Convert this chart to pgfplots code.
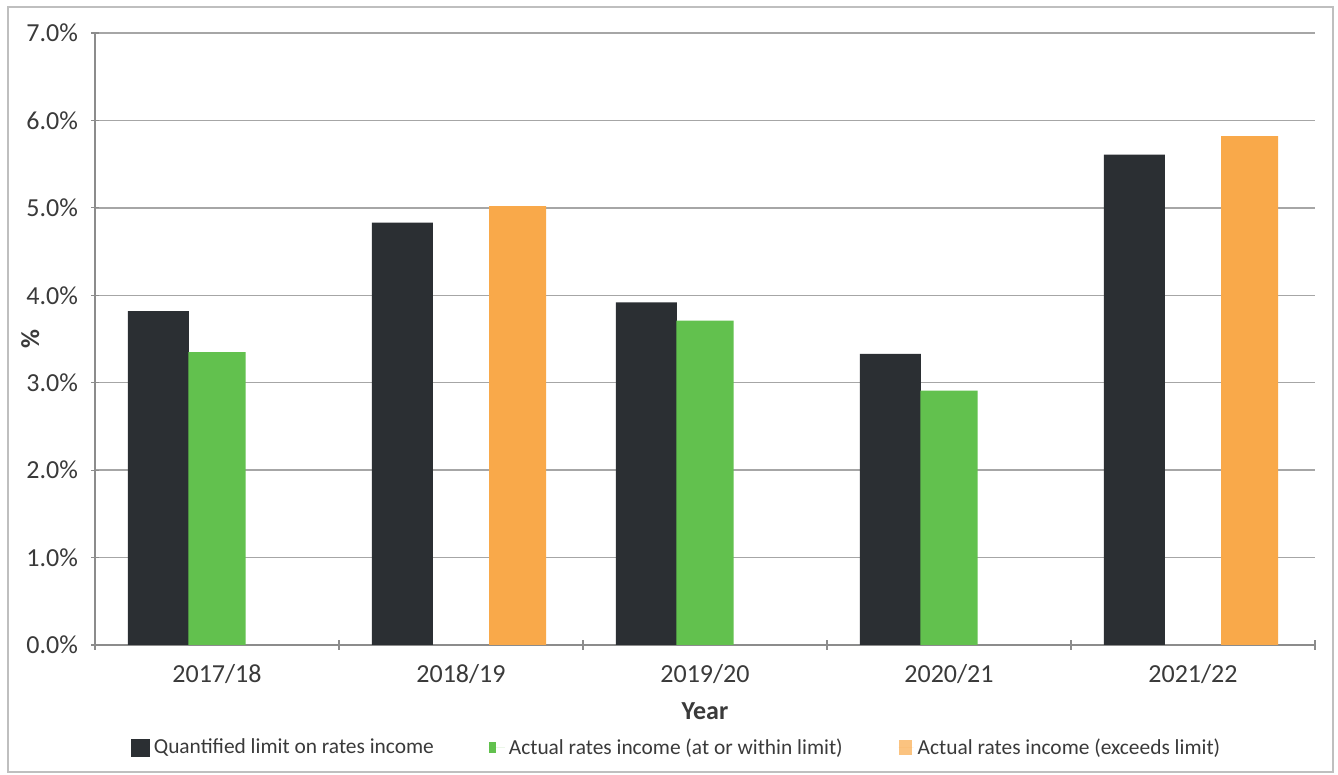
\documentclass[border=0pt]{standalone}
\usepackage{pgfplots}
\pgfplotsset{compat=1.18}
\usepackage{fontspec}
\setmainfont{Carlito}
\definecolor{barblack}{HTML}{2B2F33}
\definecolor{bargreen}{HTML}{62C14E}
\definecolor{barorange}{HTML}{F9A94A}
\definecolor{gridgray}{HTML}{A6A6A6}
\definecolor{axgray}{HTML}{8C8C8C}
\definecolor{txt}{HTML}{3A3A3A}
\begin{document}
\begin{tikzpicture}
\fill[white] (0,0) rectangle (669pt,387.5pt);
\draw[black!25, line width=1pt] (4pt,1.5pt) rectangle (666.5pt,384pt);
\begin{axis}[
  at={(47.5pt,65pt)}, anchor=south west,
  scale only axis, width=610pt, height=306pt,
  ybar,
  xmin=-0.5, xmax=4.5, ymin=0, ymax=7,
  xtick={0,1,2,3,4},
  xticklabels={2017/18,2018/19,2019/20,2020/21,2021/22},
  major x tick style={draw=none},
  minor xtick={-0.5,0.5,1.5,2.5,3.5,4.5},
  minor tick length=5pt,
  major tick length=4pt,
  tick align=outside,
  tick style={axgray, line width=0.6pt},
  ytick={0,1,2,3,4,5,6,7},
  yticklabel={\pgfmathprintnumber[fixed,fixed zerofill,precision=1]{\tick}\%},
  /pgf/number format/assume math mode=true,
  ymajorgrids,
  grid style={gridgray, line width=0.7pt},
  axis lines=left,
  axis line style={-, axgray, line width=0.8pt},
  ticklabel style={font=\fontsize{13}{15}\selectfont, text=txt},
  xticklabel style={yshift=-4pt},
  yticklabel style={xshift=-3pt},
  xlabel={Year},
  ylabel={\%},
  xlabel style={font=\fontsize{13}{15}\selectfont\bfseries, text=txt, at={(axis description cs:0.5,-0.108)}, anchor=center},
  ylabel style={font=\fontsize{13}{15}\selectfont\bfseries, text=txt, at={(axis description cs:-0.053,0.5)}, anchor=center, rotate=0},
  bar width=0.234,
  legend style={draw=none, fill=none, at={(axis description cs:0.4775,-0.168)}, anchor=center,
    font=\fontsize{10.7}{12}\selectfont, text=txt, legend columns=3,
    /tikz/column 2/.style={column sep=25.5pt},
    /tikz/column 4/.style={column sep=26pt},
    /tikz/every odd column/.append style={inner xsep=0pt}},
  legend cell align=left,
]
\addplot[fill=barblack, draw=none, bar shift=-0.24, bar width=0.25,
  legend image code/.code={\fill[barblack] (0pt,-4.5pt) rectangle (9.5pt,4.5pt);}]
  coordinates {(0,3.82) (1,4.83) (2,3.92) (3,3.33) (4,5.61)};
\addlegendentry{Quantified limit on rates income}
\addplot[fill=bargreen, draw=none, bar shift=0,
  legend image code/.code={\fill[bargreen] (0pt,-2.7pt) rectangle (3.5pt,2.7pt); \path (0pt,0pt) -- (8pt,0pt);}]
  coordinates {(0,3.35) (2,3.71) (3,2.91)};
\addlegendentry{Actual rates income (at or within limit)}
\addplot[fill=barorange, draw=none, bar shift=0.232,
  legend image code/.code={\fill[barorange!70] (0pt,-3.7pt) rectangle (6.8pt,3.7pt); \path (0pt,0pt) -- (7.5pt,0pt);}]
  coordinates {(1,5.02) (4,5.82)};
\addlegendentry{Actual rates income (exceeds limit)}
\end{axis}
\end{tikzpicture}
\end{document}
